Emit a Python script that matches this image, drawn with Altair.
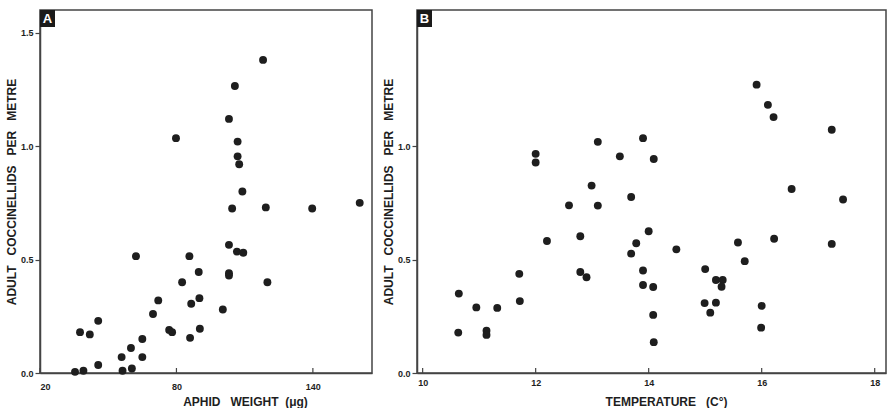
import altair as alt
import pandas as pd

# Panel A: aphid weight (µg) vs adult coccinellids per metre
a_weight = [35.4, 39.1, 45.6, 37.6, 41.9, 45.6, 56.3, 60.4, 55.9, 60.0,
            65.0, 65.0, 62.2, 69.7, 72.0, 76.8, 78.1, 79.8, 82.5, 85.7,
            86.0, 86.5, 89.8, 90.1, 90.3, 100.4, 103.1, 103.1, 103.1, 103.1,
            105.7, 104.5, 106.9, 106.9, 107.6, 109.0, 106.6, 109.4, 118.1, 119.3,
            120.0, 139.7, 160.6]
a_cocc = [0.005, 0.01, 0.035, 0.18, 0.17, 0.23, 0.01, 0.02, 0.07, 0.11,
          0.15, 0.07, 0.515, 0.26, 0.32, 0.19, 0.18, 1.035, 0.40, 0.515,
          0.155, 0.305, 0.445, 0.33, 0.195, 0.28, 1.12, 0.565, 0.44, 0.43,
          1.265, 0.725, 1.02, 0.955, 0.92, 0.80, 0.535, 0.53, 1.38, 0.73,
          0.40, 0.725, 0.75]

# Panel B: temperature (C) vs adult coccinellids per metre
b_temp = [10.64, 10.63, 10.95, 11.13, 11.13, 11.32, 11.71, 11.72, 12.0, 12.0,
          12.2, 12.59, 12.79, 12.79, 12.9, 12.99, 13.1, 13.1, 13.49, 13.69,
          13.69, 13.78, 13.9, 13.9, 13.9, 14.0, 14.09, 14.08, 14.08, 14.09,
          14.49, 15.0, 14.99, 15.09, 15.19, 15.31, 15.29, 15.19, 15.58, 15.7,
          15.91, 16.11, 16.21, 16.22, 16.0, 15.99, 16.53, 17.24, 17.24, 17.44]
b_cocc = [0.35, 0.178, 0.289, 0.186, 0.168, 0.287, 0.437, 0.317, 0.966, 0.928,
          0.582, 0.739, 0.603, 0.445, 0.422, 0.826, 1.019, 0.738, 0.955, 0.776,
          0.526, 0.572, 1.035, 0.452, 0.388, 0.625, 0.943, 0.379, 0.256, 0.136,
          0.545, 0.458, 0.308, 0.266, 0.41, 0.41, 0.38, 0.31, 0.575, 0.493,
          1.271, 1.182, 1.128, 0.592, 0.296, 0.2, 0.811, 1.072, 0.569, 0.765]

a_xticks = [20, 80, 140]
b_xticks = [10, 12, 14, 16, 18]
a_yticks = [0.0, 0.5, 1.0, 1.5]
b_yticks = [0.0, 0.5, 1.0]

FONT = "Liberation Sans"
INK = "#1e1e1e"
LINE = "#444444"
H = 363
NB = "\u00a0"
YTITLE = f"ADULT{NB*3}COCCINELLIDS{NB*3}PER{NB*3}METRE"


def panel(xs_vals, ys_vals, xdom, xticks, yticks, w, xtitle, letter, title_x, xlabpad):
    df = pd.DataFrame({"x": xs_vals, "y": ys_vals})
    xs = alt.Scale(domain=xdom, nice=False, zero=False)
    ys = alt.Scale(domain=[0, 1.6], nice=False, zero=False)
    xaxis = alt.Axis(values=xticks, format="d", title=xtitle, ticks=False,
                     labelPadding=xlabpad, titleX=title_x, titleY=32,
                     titleAlign="center", titleBaseline="alphabetic")
    yaxis = alt.Axis(values=yticks, format=".1f", title=YTITLE, tickSize=5,
                     labelPadding=2, titleX=-25, titleBaseline="alphabetic")
    pts = alt.Chart(df).mark_circle(size=62, opacity=1, color=INK).encode(
        x=alt.X("x:Q", scale=xs, axis=xaxis),
        y=alt.Y("y:Q", scale=ys, axis=yaxis),
    )
    tdf = pd.DataFrame({"x": xticks})
    ticks = alt.Chart(tdf).mark_rule(color=LINE, strokeWidth=1.2).encode(
        x=alt.X("x:Q", scale=xs, axis=xaxis),
        y=alt.value(H), y2=alt.value(H - 5),
    )
    ldf = pd.DataFrame({"l": [letter]})
    box = alt.Chart(ldf).mark_rect(color="#1a1a1a").encode(
        x=alt.value(0), x2=alt.value(15), y=alt.value(0), y2=alt.value(17)
    )
    txt = alt.Chart(ldf).mark_text(color="white", font=FONT, fontWeight="bold",
                                   fontSize=13, align="center", baseline="middle").encode(
        text="l:N", x=alt.value(7.5), y=alt.value(9)
    )
    return alt.layer(pts, ticks, box, txt).properties(width=w, height=H)


A = panel(a_weight, a_cocc, [20, 166], a_xticks, a_yticks, 332,
          f"APHID{NB*3}WEIGHT{NB*2}(\u03bcg)", "A", 205, 9)
B = panel(b_temp, b_cocc, [9.9, 18.2], b_xticks, b_yticks, 469,
          f"TEMPERATURE{NB*3}(C\u00b0)", "B", 249, 5)

chart = alt.hconcat(A, B, spacing=8).properties(
    padding={"left": 4, "top": 9, "right": 0, "bottom": 0},
    background="white",
).configure_view(
    stroke=LINE, strokeWidth=1.5
).configure_axis(
    domainColor=LINE, domainWidth=1.5, tickColor=LINE, tickWidth=1.2, grid=False,
    labelFont=FONT, labelFontSize=9, labelFontWeight="bold", labelColor=INK,
    titleFont=FONT, titleFontSize=12, titleFontWeight="bold", titleColor=INK,
)

chart.save("out.html", embed_options={"renderer": "svg", "actions": False})
